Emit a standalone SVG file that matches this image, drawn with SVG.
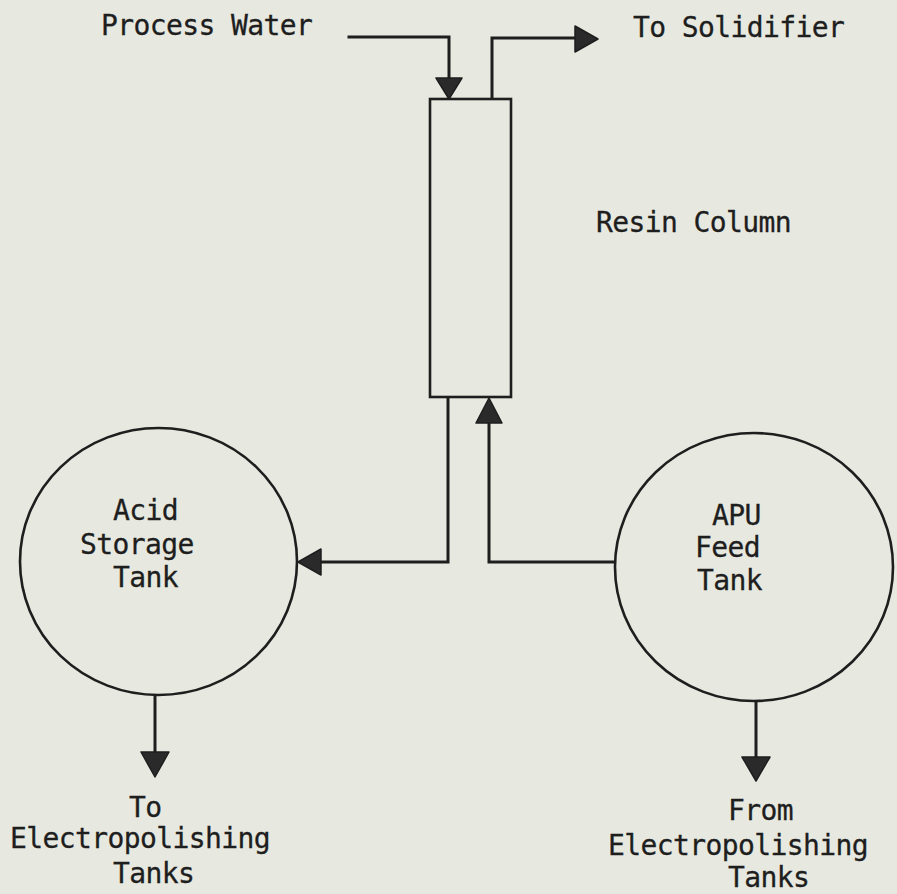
<svg xmlns="http://www.w3.org/2000/svg" width="897" height="894" viewBox="0 0 897 894">
<style>
.t{font-family:"DejaVu Sans Mono","Liberation Mono",monospace;font-size:28px;letter-spacing:-0.6px;fill:#1e1e1e;stroke:#1e1e1e;stroke-width:0.3}
.ln{fill:none;stroke:#1e1e1e;stroke-width:3;stroke-linejoin:miter;stroke-linecap:square}
.sh{fill:none;stroke:#1e1e1e;stroke-width:2.6}
.ah{fill:#2a2a2a;stroke:#1e1e1e;stroke-width:1.5;stroke-linejoin:round}
</style>
<rect x="0" y="0" width="897" height="894" fill="#e7e9e0"/>
<g id="resin-column">
<rect class="sh" x="430" y="99" width="81" height="298"/>
<text class="t" x="596" y="232">Resin Column</text>
</g>
<g id="acid-storage-tank">
<ellipse class="sh" cx="158.5" cy="561.5" rx="138.5" ry="133.5"/>
<text class="t" x="113" y="520">Acid</text>
<text class="t" x="80" y="554">Storage</text>
<text class="t" x="113" y="587">Tank</text>
</g>
<g id="apu-feed-tank">
<ellipse class="sh" cx="754" cy="567" rx="139" ry="134"/>
<text class="t" x="712" y="525">APU</text>
<text class="t" x="695" y="557">Feed</text>
<text class="t" x="697" y="590">Tank</text>
</g>
<g id="process-water">
<text class="t" x="101" y="35">Process Water</text>
</g>
<g id="to-solidifier">
<text class="t" x="633" y="37">To Solidifier</text>
</g>
<g id="to-electropolishing">
<text class="t" x="129" y="817">To</text>
<text class="t" x="10" y="848">Electropolishing</text>
<text class="t" x="113" y="883">Tanks</text>
</g>
<g id="from-electropolishing">
<text class="t" x="728" y="820">From</text>
<text class="t" x="608" y="855">Electropolishing</text>
<text class="t" x="728" y="887">Tanks</text>
</g>
<g id="connectors">
<path class="ln" d="M349 37 H449 V78"/>
<polygon class="ah" points="436,78 462,78 449,99"/>
<path class="ln" d="M492 98 V38 H575"/>
<polygon class="ah" points="575,26 575,52 598,39"/>
<path class="ln" d="M448 398 V562 H321"/>
<polygon class="ah" points="321,549 321,575 298,562"/>
<path class="ln" d="M614 562 H489 V423"/>
<polygon class="ah" points="476,423 502,423 489,398"/>
<path class="ln" d="M155 696 V752"/>
<polygon class="ah" points="141,752 169,752 155,777"/>
<path class="ln" d="M756 702 V757"/>
<polygon class="ah" points="742,757 770,757 756,781"/>
</g>
</svg>
